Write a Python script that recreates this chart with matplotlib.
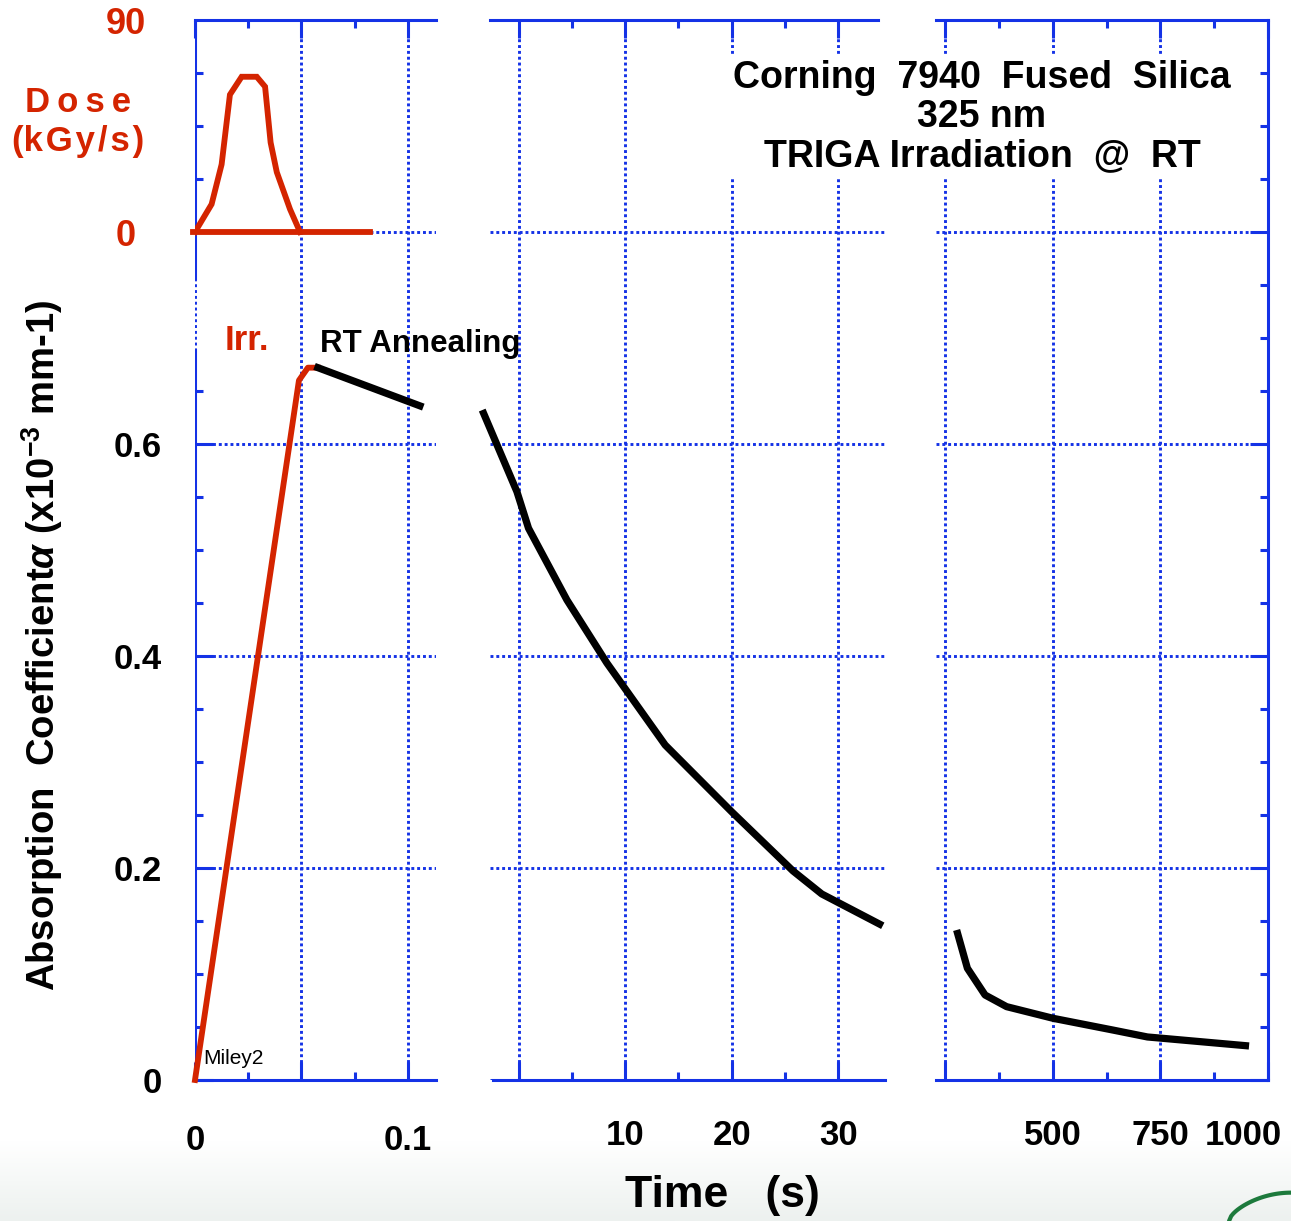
import matplotlib
matplotlib.use('Agg')
import matplotlib.pyplot as plt
from matplotlib.ticker import FixedLocator, FixedFormatter, NullFormatter
from matplotlib.transforms import ScaledTranslation
from matplotlib.colors import LinearSegmentedColormap
import numpy as np

plt.rcParams['font.family'] = ['Liberation Sans', 'DejaVu Sans']
plt.rcParams['font.weight'] = 'bold'
plt.rcParams['mathtext.fontset'] = 'custom'
plt.rcParams['mathtext.rm'] = 'Liberation Sans:bold'
plt.rcParams['mathtext.bf'] = 'Liberation Sans:bold'
plt.rcParams['mathtext.it'] = 'Liberation Sans:italic'

# ---------------- data ----------------
# dose rate pulse (kGy/s) vs time (s), panel 1
dose_t = [0.0, 0.0078, 0.0125, 0.0164, 0.0219, 0.0290, 0.0329, 0.0355, 0.0384, 0.0446, 0.0493]
dose_v = [0.0, 11.8, 28.7, 58.3, 65.9, 65.9, 61.7, 38.0, 25.4, 9.7, 0.0]
dose_base_t = [-0.001, 0.0822]
dose_base_v = [0.0, 0.0]
# absorption during irradiation (red)
irr_t = [0.0, 0.0488, 0.0530, 0.0577]
irr_a = [0.0, 0.660, 0.672, 0.672]
# RT annealing, panel 1
ann1_t = [0.0577, 0.1056]
ann1_a = [0.672, 0.636]
# RT annealing, panel 2
ann2_t = [-3.43, -0.17, 0.92, 4.53, 8.28, 10.75, 13.76, 20.0, 25.77, 28.47, 34.2]
ann2_a = [0.632, 0.555, 0.5205, 0.4528, 0.3934, 0.3585, 0.316, 0.2531, 0.1972, 0.1755, 0.1455]
# RT annealing, panel 3
ann3_t = [277, 302, 343, 393, 501, 639, 720, 748, 956]
ann3_a = [0.1415, 0.1054, 0.0802, 0.0692, 0.0582, 0.0472, 0.0406, 0.0396, 0.0321]

# ticks
y_major = [0.0, 0.2, 0.4, 0.6, 0.8]
y_major_labels = ['0', '0.2', '0.4', '0.6', '']
y_minor_p1 = [0.05, 0.1, 0.15, 0.25, 0.3, 0.35, 0.45, 0.5, 0.55, 0.65, 0.85, 0.9, 0.95]
y_minor_all = [0.05, 0.1, 0.15, 0.25, 0.3, 0.35, 0.45, 0.5, 0.55, 0.65, 0.7, 0.75, 0.85, 0.9, 0.95]
dose_ticks = [0, 90]
dose_labels = ['0', '90']
x1_major = [0.0, 0.05, 0.1]
x1_labels = ['0', '', '0.1']
x1_minor = [0.025, 0.075]
x2_major = [0, 10, 20, 30]
x2_labels = ['', '10', '20', '30']
x2_minor = [5, 15, 25]
x3_major = [250, 500, 750, 1000]
x3_labels = ['', '500', '750', '1000']
x3_minor = [375, 625, 875]

BLUE = '#1432e6'
RED = '#d42400'
W, H = 1291, 1221

fig = plt.figure(figsize=(W / 100, H / 100), dpi=100)

# light gradient background at the bottom
bg = fig.add_axes([0, 0, 1, 81 / H], zorder=-10)
grad = np.linspace(1, 0, 50).reshape(-1, 1)
cm = LinearSegmentedColormap.from_list('g', ['#ffffff', '#edf1ef'])
bg.imshow(grad, aspect='auto', cmap=cm, extent=[0, 1, 0, 1], origin='lower')
bg.set_xlim(0, 1); bg.set_ylim(0, 1)
bg.axis('off')
arc_t = np.linspace(0, 1, 30)
bg.plot(0.952 + 0.048 * arc_t, 0.0 + 0.35 * np.sin(arc_t * np.pi / 2) ** 0.6,
        color='#1d7a3c', lw=3, solid_capstyle='round')

bottom = (H - 1080) / H
height = 1060 / H


def px(x0, x1):
    return [x0 / W, bottom, (x1 - x0) / W, height]


ax1 = fig.add_axes(px(195, 436))
ax2 = fig.add_axes(px(490, 885))
ax3 = fig.add_axes(px(936, 1268))

ax1.set_xlim(0, 0.11315)
ax2.set_xlim(-2.70, 34.41)
ax3.set_xlim(229.1, 1000)
for ax in (ax1, ax2, ax3):
    ax.set_ylim(0, 1.0)
    ax.patch.set_visible(False)
    for s in ax.spines.values():
        s.set_color(BLUE)
        s.set_linewidth(2.2)

# dose twin axis for panel 1
ax1d = ax1.twinx()
ax1d.set_ylim(-360, 90)
for s in ax1d.spines.values():
    s.set_visible(False)

grid_kw = dict(color=BLUE, linestyle=(0, (1, 1)), linewidth=2.1)

# ---- panel 1 ----
ax1.spines['right'].set_visible(False)
ax1.spines['left'].set_visible(False)
ax1.axvline(0, ymin=0, ymax=0.689, color=BLUE, lw=2.2, zorder=2.5)
ax1.axvline(0, ymin=0.757, ymax=1.0, color=BLUE, lw=2.2, zorder=2.5)
ax1.xaxis.set_major_locator(FixedLocator(x1_major))
ax1.xaxis.set_major_formatter(FixedFormatter(x1_labels))
ax1.xaxis.set_minor_locator(FixedLocator(x1_minor))
ax1.yaxis.set_major_locator(FixedLocator(y_major))
ax1.yaxis.set_major_formatter(FixedFormatter(y_major_labels))
ax1.yaxis.set_minor_locator(FixedLocator(y_minor_p1))
ax1.yaxis.set_ticks_position('left')
ax1.tick_params(axis='x', which='both', direction='in', top=True, bottom=True,
                color=BLUE, width=2.2, labelsize=25, pad=32)
ax1.tick_params(axis='y', which='both', direction='in', left=True, right=False,
                color=BLUE, width=2.2, labelsize=25, pad=24)
ax1.tick_params(which='major', length=13)
ax1.tick_params(which='minor', length=6)
ax1.grid(True, which='major', **grid_kw)

ax1d.yaxis.set_ticks_position('left')
ax1d.yaxis.set_major_locator(FixedLocator(dose_ticks))
ax1d.yaxis.set_major_formatter(FixedFormatter(dose_labels))
ax1d.tick_params(axis='y', length=0, labelsize=26, labelcolor=RED, pad=50)
for lab in ax1d.get_yticklabels():
    lab.set_horizontalalignment('center')

ax1d.plot(dose_t, dose_v, color=RED, lw=4.2, solid_joinstyle='miter', zorder=3)
ax1d.plot(dose_base_t, dose_base_v, color=RED, lw=4.2, clip_on=False, zorder=3)
ax1.plot(irr_t, irr_a, color=RED, lw=4.2, zorder=3, clip_on=False)
ax1.plot(ann1_t, ann1_a, color='black', lw=5.2, zorder=3)

# ---- panel 2 ----
ax2.spines['left'].set_visible(False)
ax2.spines['right'].set_visible(False)
ax2.spines['top'].set_bounds(-2.70, 33.75)
ax2.spines['bottom'].set_bounds(-2.40, 34.41)
ax2.xaxis.set_major_locator(FixedLocator(x2_major))
ax2.xaxis.set_major_formatter(FixedFormatter(x2_labels))
ax2.xaxis.set_minor_locator(FixedLocator(x2_minor))
ax2.yaxis.set_major_locator(FixedLocator(y_major))
ax2.yaxis.set_major_formatter(NullFormatter())
ax2.tick_params(axis='x', which='both', direction='in', top=True, bottom=True,
                color=BLUE, width=2.2, labelsize=25, pad=28)
ax2.tick_params(axis='x', which='major', length=13)
ax2.tick_params(axis='x', which='minor', length=6)
ax2.tick_params(axis='y', which='both', length=0, left=False, right=False)
ax2.grid(True, which='major', **grid_kw)
ax2.plot(ann2_t, ann2_a, color='black', lw=5.2, zorder=3, clip_on=False,
         solid_capstyle='butt')

# ---- panel 3 ----
ax3.spines['left'].set_visible(False)
ax3.xaxis.set_major_locator(FixedLocator(x3_major))
ax3.xaxis.set_major_formatter(FixedFormatter(x3_labels))
ax3.xaxis.set_minor_locator(FixedLocator(x3_minor))
ax3.yaxis.set_major_locator(FixedLocator(y_major))
ax3.yaxis.set_major_formatter(NullFormatter())
ax3.yaxis.set_minor_locator(FixedLocator(y_minor_all))
ax3.yaxis.set_ticks_position('right')
ax3.tick_params(axis='x', which='both', direction='in', top=True, bottom=True,
                color=BLUE, width=2.2, labelsize=25, pad=28)
ax3.tick_params(axis='y', which='both', direction='in', left=False, right=True,
                color=BLUE, width=2.2)
ax3.tick_params(which='major', length=13)
ax3.tick_params(which='minor', length=6)
ax3.grid(True, which='major', **grid_kw)
ax3.plot(ann3_t, ann3_a, color='black', lw=5.2, zorder=3, solid_capstyle='butt')
last = ax3.xaxis.get_major_ticks()[-1].label1
last.set_transform(last.get_transform() + ScaledTranslation(-0.25, 0, fig.dpi_scale_trans))

# ---- texts ----
fig.text(982 / W, 1 - 117 / H,
         'Corning  7940  Fused  Silica\n325 nm\nTRIGA Irradiation  @  RT',
         ha='center', va='center', ma='center', fontsize=27, linespacing=1.12,
         bbox=dict(facecolor='white', edgecolor='none', pad=3), zorder=5)
fig.text(247 / W, 1 - 341 / H, 'Irr.', color=RED, fontsize=25, ha='center', va='center')
fig.text(320 / W, 1 - 344 / H, 'RT Annealing', color='black', fontsize=22.5, ha='left', va='center')
fig.text(203 / W, 1 - 1058 / H, 'Miley2', color='black', fontsize=15, fontweight='normal',
         ha='left', va='center')
fig.text(78 / W, 1 - 122 / H, 'D\u2009o\u2009s\u2009e\n(k\u200aG\u200ay\u200a/\u200as\u200a)',
         color=RED, fontsize=25, ha='center', va='center', ma='center', linespacing=1.25)
fig.text(42 / W, 1 - 645 / H,
         r'Absorption  Coefficient$\it{\alpha}$ (x10$^{-3}$ mm-1)',
         rotation=90, ha='center', va='center', fontsize=27.5)
fig.text(722 / W, 1 - 1195 / H, 'Time   (s)', ha='center', va='center', fontsize=32)

fig.savefig('out.png', dpi=100)
